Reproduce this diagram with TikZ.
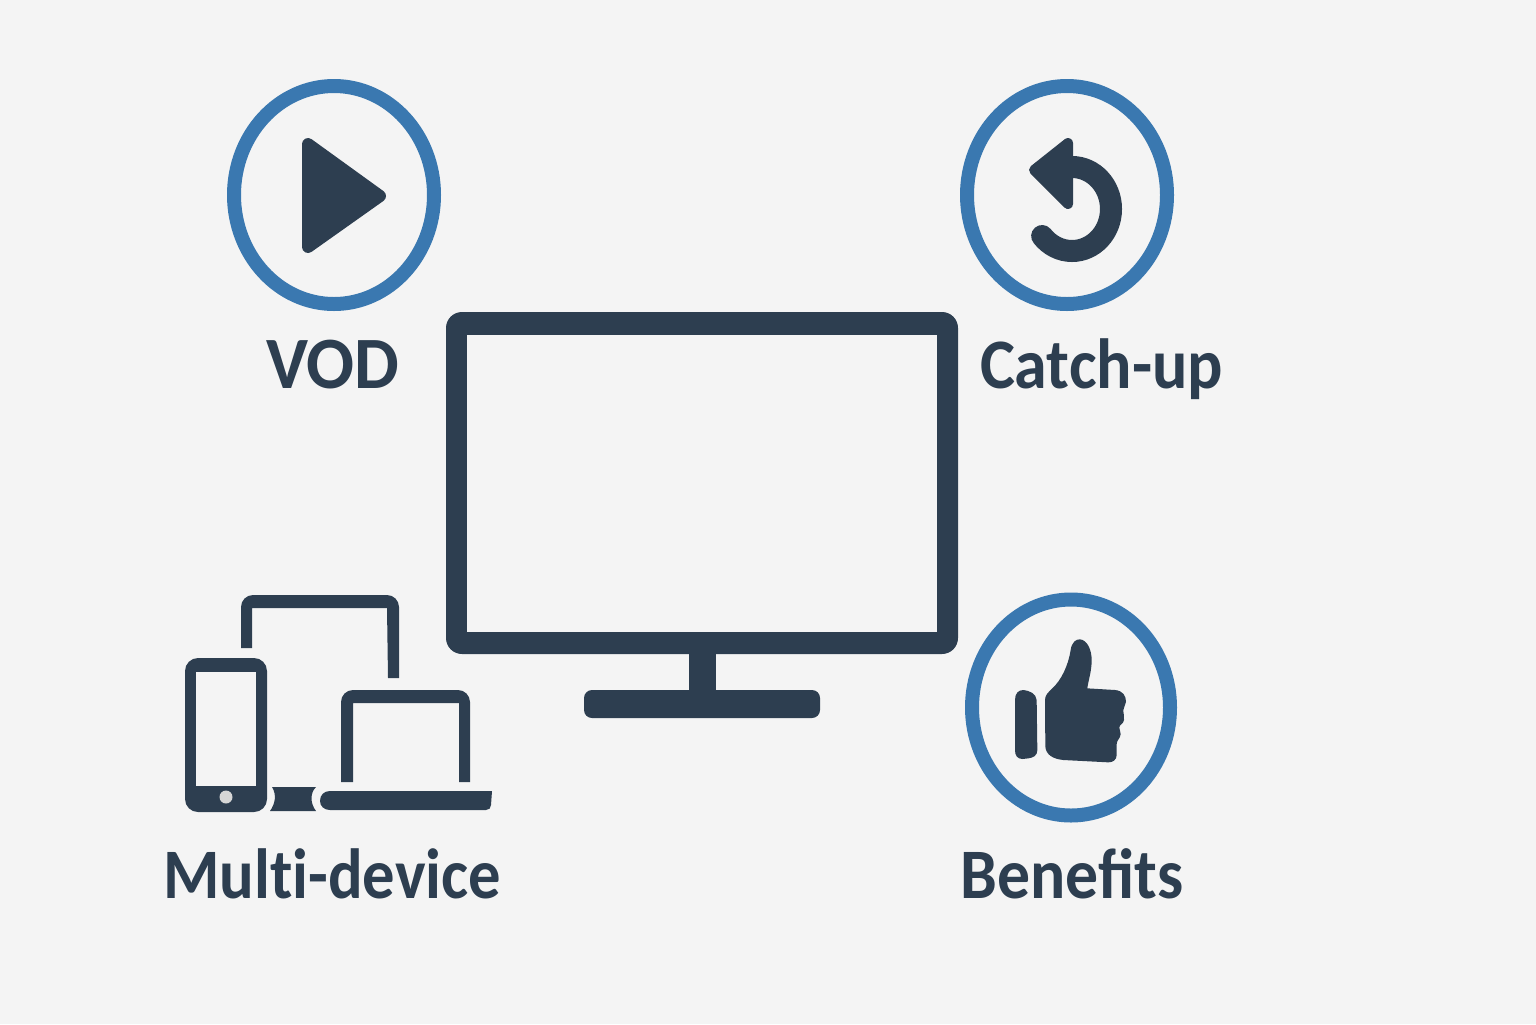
\documentclass[tikz,border=0pt]{standalone}
\usepackage{fontspec}
\setmainfont{Carlito}
\definecolor{ink}{HTML}{2D3E50}
\definecolor{ringblue}{HTML}{3A78B0}
\definecolor{paper}{HTML}{F4F4F4}
\definecolor{btn}{HTML}{D6D6D6}
\tikzset{
  ring/.style={draw=ringblue,line width=7pt,fill=none},
  label text/.style={anchor=base,text=ink,font=\fontsize{35.5}{42}\selectfont\bfseries,inner sep=0pt,outer sep=0pt},
}
\begin{document}
\begin{tikzpicture}[x=0.5pt,y=-0.5pt]
\useasboundingbox (0,0) rectangle (1536,1024);
\fill[paper] (0,0) rectangle (1536,1024);
% rings
\draw[ring] (334,195) ellipse [x radius=100,y radius=109];
\draw[ring] (1067,195) ellipse [x radius=100,y radius=109];
\draw[ring] (1071,707.5) ellipse [x radius=99,y radius=108];
% play
\fill[ink,draw=ink,line width=6pt,line join=round] (308,144) -- (308,247) -- (380,196) -- cycle;
% replay
\draw[ink,line width=11pt,line cap=round] (1072,167) arc [start angle=-90,end angle=140,x radius=39,y radius=42];
\fill[ink,draw=ink,line width=5pt,line join=round] (1068,143) -- (1034,170) -- (1068,204) -- cycle;
% thumb
\begin{scope}[shift={(1000,625)},scale=1/3]
\fill[ink] (45,225) .. controls (45,205) and (55,195) .. (70,195) .. controls (88,197) and (108,205) .. (110,225)
  -- (112,375) .. controls (112,392) and (100,398) .. (85,400) -- (68,402) .. controls (52,402) and (45,392) .. (45,375) -- cycle;
\fill[ink] (135,225) .. controls (135,210) and (145,202) .. (155,192) .. controls (185,165) and (205,120) .. (212,75)
  .. controls (215,52) and (228,42) .. (240,43) .. controls (262,45) and (275,75) .. (275,105)
  .. controls (275,140) and (265,165) .. (262,190) -- (345,195) .. controls (368,197) and (378,212) .. (378,230)
  .. controls (378,240) and (370,245) .. (370,255) .. controls (370,268) and (374,275) .. (372,285)
  .. controls (370,298) and (358,298) .. (358,308) .. controls (358,318) and (363,320) .. (362,328)
  .. controls (360,342) and (350,345) .. (350,358) -- (350,390) .. controls (350,405) and (338,412) .. (325,412)
  -- (190,405) .. controls (160,402) and (138,390) .. (136,365) -- cycle;
\end{scope}
% television
\fill[ink,rounded corners=8pt] (446,312) rectangle (958,654);
\fill[paper] (467,335) rectangle (937,632);
\fill[ink] (689,650) rectangle (716,695);
\fill[ink,rounded corners=4pt] (584,690) rectangle (820,718);
% phone
\fill[ink,rounded corners=6.5pt] (185,658) rectangle (267,812);
\fill[paper] (196,672) rectangle (256,786);
\fill[btn] (226,797) circle [radius=6.5];
% tablet
\fill[ink] (241,648) -- (241,607) arc [start angle=180,end angle=270,radius=12] -- (387,595) arc [start angle=270,end angle=360,radius=12]
  -- (399,678) -- (388,678) -- (387,608) -- (252,608) -- (252,648) -- cycle;
% laptop lid
\fill[ink] (341,782) -- (341,702) arc [start angle=180,end angle=270,radius=12] -- (458,690) arc [start angle=270,end angle=360,radius=12]
  -- (470,782) -- (459,782) -- (459,703) -- (353,703) -- (353,782) -- cycle;
% laptop base
\fill[ink] (330,791) -- (492,791) -- (491,805) .. controls (491,808) and (489,810) .. (486,810) -- (330,810)
  .. controls (324,810) and (320,806) .. (320,801) .. controls (320,795) and (324,791) .. (330,791) -- cycle;
% hinge piece
\fill[ink] (272,787) -- (316,787) .. controls (310,793) and (310,803) .. (316,811) -- (270,811) .. controls (275,804) and (277,795) .. (272,787) -- cycle;
% labels
\node[label text] (vod) at (333,388) {\scalebox{1}[1.04]{VOD}};
\node[label text,anchor=base west] (catch) at (980,388) {\scalebox{.93}[1]{Catch-up}};
\node[label text] (multi) at (332,898) {\scalebox{.91}[1]{Mult\kern0pt i-device}};
\node[label text] (ben) at (1072,898) {\scalebox{.925}[1]{Benefits}};
\end{tikzpicture}
\end{document}
